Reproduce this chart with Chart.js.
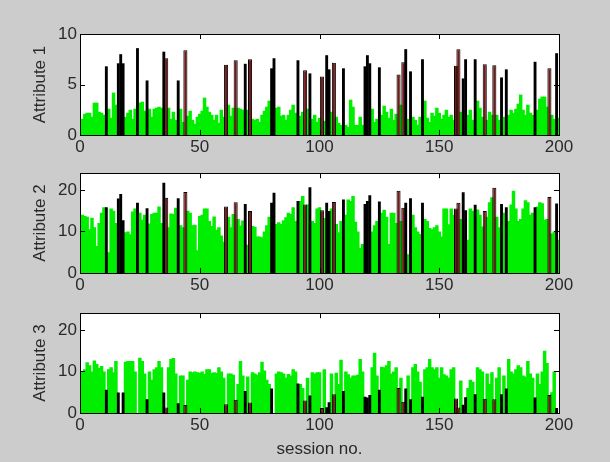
<!DOCTYPE html>
<html>
<head>
<script src="https://cdn.jsdelivr.net/npm/chart.js@4.4.0/dist/chart.umd.min.js"></script>
<style>
  body { margin: 0; background: #cccccc; width: 610px; height: 462px; overflow: hidden; }
  canvas { position: absolute; left: 0; }
</style>
</head>
<body>
<canvas id="plot1" width="610" height="165" style="top:0px"></canvas>
<canvas id="plot2" width="610" height="150" style="top:160px"></canvas>
<canvas id="plot3" width="610" height="162" style="top:300px"></canvas>
<script>
// sessions 1..200, green = ordinary sessions (0 where the session is marked)
var attr1 = [
  1.6, 2.1, 2.2, 2.2, 1.8, 3.2, 3.2, 2.3, 2.2, 2.0,
  0, 2.6, 1.7, 4.2, 3.0, 0, 0, 0, 1.8, 2.2,
  2.5, 1.6, 2.6, 0, 3.2, 3.3, 2.4, 0, 2.6, 1.8,
  2.6, 2.7, 2.8, 2.7, 0, 0, 2.7, 1.6, 2.3, 1.5,
  0, 2.6, 1.3, 0, 1.9, 2.4, 1.5, 1.1, 1.8, 2.1,
  2.4, 3.7, 2.8, 2.3, 2.0, 1.5, 2.0, 1.2, 2.5, 1.8,
  0, 3.0, 1.9, 2.7, 0, 2.7, 2.6, 2.5, 0, 2.5,
  0, 1.6, 1.5, 1.6, 1.3, 2.0, 2.4, 2.8, 3.4, 0,
  0, 2.7, 2.8, 1.9, 2.0, 1.5, 2.0, 2.5, 3.0, 2.2,
  0, 1.9, 2.3, 0, 2.6, 0, 1.6, 2.0, 1.3, 1.7,
  0, 1.4, 0, 0, 2.3, 0, 1.8, 1.2, 1.0, 0,
  1.0, 0.8, 3.5, 2.8, 1.0, 1.0, 1.8, 1.0, 0, 0,
  0, 2.6, 1.3, 1.6, 0, 2.0, 2.9, 2.3, 1.7, 2.6,
  1.5, 2.1, 0, 3.0, 0, 0, 1.6, 0, 1.8, 1.5,
  1.0, 1.8, 0, 3.4, 1.7, 1.3, 2.2, 1.9, 2.7, 2.2,
  1.6, 2.0, 2.5, 1.8, 2.0, 1.5, 0, 0, 2.3, 0,
  0, 2.0, 2.5, 1.5, 0, 3.4, 2.7, 1.8, 0, 1.5,
  2.3, 2.0, 0, 2.0, 1.5, 0, 1.8, 0, 2.0, 2.5,
  2.2, 2.6, 3.1, 4.0, 2.5, 2.0, 3.0, 2.2, 2.0, 0,
  2.5, 3.6, 3.8, 3.8, 2.8, 0, 2.0, 1.6, 0, 1.7
];
var attr2 = [
  14.0, 13.7, 13.5, 10.5, 13.3, 11.0, 6.5, 12.0, 14.5, 15.8,
  0, 5.0, 15.5, 15.0, 12.0, 0, 0, 0, 9.8, 10.0,
  9.3, 14.8, 15.5, 0, 14.5, 12.8, 14.0, 0, 11.9, 14.2,
  14.5, 14.5, 16.0, 12.0, 0, 0, 11.0, 14.3, 14.2, 15.7,
  0, 11.5, 11.0, 0, 15.0, 14.5, 11.5, 11.6, 5.5, 13.7,
  14.0, 15.5, 15.5, 12.5, 11.3, 13.6, 10.4, 11.0, 9.0, 7.5,
  0, 13.5, 11.0, 14.2, 0, 13.0, 11.4, 12.6, 0, 6.8,
  0, 11.3, 11.1, 8.8, 8.8, 8.6, 10.0, 11.5, 13.5, 0,
  0, 11.8, 12.2, 11.8, 12.7, 13.4, 14.5, 14.2, 15.8, 12.5,
  0, 17.3, 18.5, 0, 16.5, 0, 12.5, 12.0, 15.5, 15.8,
  0, 13.2, 0, 0, 15.5, 0, 11.8, 9.8, 12.5, 0,
  14.0, 17.7, 17.3, 18.5, 12.3, 10.0, 6.0, 7.0, 0, 0,
  0, 10.0, 11.5, 12.5, 0, 14.5, 15.2, 13.5, 7.0, 14.5,
  14.5, 12.0, 0, 12.5, 0, 0, 4.5, 0, 14.0, 11.0,
  10.0, 9.4, 0, 13.0, 12.5, 10.8, 10.5, 11.0, 11.5, 10.0,
  8.8, 15.5, 15.5, 11.7, 15.5, 14.0, 0, 0, 13.0, 0,
  0, 8.0, 15.5, 15.0, 0, 15.3, 14.0, 11.2, 0, 13.5,
  17.0, 18.2, 0, 13.5, 11.0, 0, 14.5, 0, 12.5, 16.5,
  19.8, 15.5, 12.5, 13.0, 15.5, 17.5, 17.0, 14.0, 14.5, 0,
  16.0, 17.0, 16.8, 12.8, 13.0, 0, 9.5, 10.0, 0, 8.0
];
var attr3 = [
  10.0, 10.5, 12.2, 11.5, 10.0, 12.6, 11.8, 10.8, 11.3, 10.0,
  0, 10.5, 11.0, 9.8, 12.5, 0, 0, 0, 12.3, 12.5,
  12.5, 12.5, 10.0, 0, 13.3, 12.5, 9.5, 0, 10.0, 8.0,
  10.5, 11.0, 12.5, 11.0, 0, 0, 11.0, 13.0, 13.2, 9.5,
  0, 9.0, 9.0, 0, 8.0, 10.0, 9.8, 10.0, 9.8, 9.7,
  10.0, 9.4, 10.5, 10.5, 9.6, 9.8, 9.6, 11.0, 10.0, 8.5,
  0, 9.5, 9.5, 9.2, 0, 7.0, 12.5, 9.0, 0, 8.8,
  0, 9.8, 9.5, 9.2, 9.8, 12.3, 10.2, 8.0, 7.0, 0,
  0, 9.5, 10.0, 9.8, 9.5, 8.5, 9.4, 9.0, 10.5, 10.0,
  0, 7.0, 6.0, 0, 8.5, 0, 9.8, 9.5, 9.8, 9.8,
  0, 10.5, 0, 0, 9.5, 0, 9.7, 7.0, 12.8, 0,
  10.0, 9.3, 8.5, 9.0, 9.0, 9.2, 13.0, 10.0, 0, 0,
  0, 11.0, 14.5, 9.0, 0, 11.1, 11.0, 11.5, 12.5, 9.5,
  10.0, 11.0, 0, 8.5, 0, 0, 9.0, 0, 11.0, 11.8,
  10.0, 7.5, 0, 10.5, 11.0, 13.0, 11.0, 10.5, 11.0, 8.5,
  11.0, 9.3, 9.0, 8.5, 10.5, 11.0, 0, 0, 7.8, 0,
  0, 6.0, 8.0, 7.5, 0, 11.0, 10.5, 10.0, 0, 9.5,
  7.0, 9.8, 0, 8.5, 11.0, 0, 9.0, 0, 13.0, 10.0,
  9.5, 10.5, 11.5, 11.0, 9.0, 8.8, 12.5, 9.5, 8.5, 0,
  9.5, 7.0, 10.0, 15.0, 12.0, 0, 5.0, 10.0, 0, 0
];

// marked sessions and their values
var markSessions = [11, 16, 17, 18, 24, 28, 35, 36, 41, 44, 61, 65, 69, 71, 80, 81, 91, 94, 96, 101,
  103, 104, 106, 110, 119, 120, 121, 125, 133, 135, 136, 138, 143, 157, 158, 160, 161, 165, 169, 173,
  176, 178, 190, 196, 199];
var redSessions = [36, 44, 61, 65, 71, 94, 101, 106, 133, 135, 157, 158, 169, 173, 196];
var mark1 = [6.8, 7.1, 8.0, 7.1, 8.6, 5.4, 8.25, 7.6, 5.4, 8.4, 6.95, 7.4, 7.05, 7.5, 6.6, 7.6, 7.4, 6.4, 6.1, 5.8,
  7.9, 6.5, 7.15, 6.6, 6.8, 7.9, 7.1, 6.7, 6.0, 7.2, 8.5, 6.3, 7.5, 6.85, 8.5, 5.6, 7.5, 7.5, 7.0, 6.9,
  5.7, 6.5, 7.25, 6.6, 8.1];
var mark2 = [15.8, 17.9, 19.0, 12.7, 16.9, 15.6, 21.7, 18.1, 18.0, 19.5, 16.0, 17.0, 16.6, 14.9, 16.9, 19.3, 17.3, 16.5, 20.6, 15.1,
  16.9, 14.9, 17.1, 17.7, 16.6, 17.3, 18.7, 17.2, 19.8, 15.7, 16.9, 18.0, 16.9, 15.5, 16.9, 19.4, 15.1, 16.4, 14.9, 20.5,
  16.6, 15.8, 15.8, 18.3, 16.7];
var mark3 = [5.6, 4.9, 0, 4.9, 0, 3.3, 4.9, 1.3, 2.35, 1.9, 2.1, 3.2, 5.3, 2.5, 5.9, 0, 7.1, 3.0, 4.2, 1.2,
  1.4, 2.6, 4.5, 5.3, 3.9, 3.7, 4.3, 5.6, 6.0, 2.7, 5.9, 3.3, 3.9, 3.5, 1.3, 2.0, 3.8, 4.5, 3.4, 3.3,
  4.5, 5.9, 3.7, 4.3, 1.2];

var xTicks = [0, 50, 100, 150, 200];
var yTicks1 = [0, 5, 10];
var yTicks23 = [0, 10, 20];

var FONT = '"Liberation Sans", Arial, sans-serif';
var TXT = '#2a2a2a';
var FS = 17;

// white plot area, then MATLAB style box with inward ticks on all four sides
var boxPlugin = {
  id: 'box',
  beforeDatasetsDraw: function(chart) {
    var a = chart.chartArea, c = chart.ctx;
    c.save();
    c.fillStyle = '#ffffff';
    c.fillRect(a.left, a.top, a.right - a.left, a.bottom - a.top);
    c.restore();
  },
  afterDatasetsDraw: function(chart) {
    var a = chart.chartArea, c = chart.ctx;
    var sx = chart.scales.x, sy = chart.scales.y;
    c.save();
    c.strokeStyle = '#000';
    c.lineWidth = 1;
    c.beginPath();
    sx.ticks.forEach(function(t) {
      var px = Math.round(sx.getPixelForValue(t.value)) + 0.5;
      c.moveTo(px, a.bottom); c.lineTo(px, a.bottom - 5);
      c.moveTo(px, a.top); c.lineTo(px, a.top + 5);
    });
    sy.ticks.forEach(function(t) {
      var py = Math.round(sy.getPixelForValue(t.value)) + 0.5;
      c.moveTo(a.left, py); c.lineTo(a.left + 5, py);
      c.moveTo(a.right, py); c.lineTo(a.right - 5, py);
    });
    c.stroke();
    c.strokeRect(Math.round(a.left) + 0.5, Math.round(a.top) + 0.5,
      Math.round(a.right - a.left), Math.round(a.bottom - a.top));
    c.restore();
  }
};

function makePlot(id, green, marks, ymax, yTicks, ylabel, topPad, xHeight, xTitle) {
  var blackPts = [], redPts = [];
  for (var i = 0; i < markSessions.length; i++) {
    var p = { x: markSessions[i], y: marks[i] };
    if (redSessions.indexOf(markSessions[i]) >= 0) redPts.push(p); else blackPts.push(p);
  }
  var greenPts = green.map(function(v, i) { return { x: i + 1, y: v }; });

  return new Chart(document.getElementById(id), {
    type: 'bar',
    data: {
      datasets: [
        { data: greenPts, backgroundColor: '#00ee00', borderWidth: 0, grouped: false, inflateAmount: 0,
          barPercentage: 1.45, categoryPercentage: 1, order: 2 },
        { data: blackPts, backgroundColor: '#000000', borderWidth: 0, grouped: false,
          barPercentage: 1.2, categoryPercentage: 1, order: 1 },
        { data: redPts, backgroundColor: '#721a1a', borderColor: '#000000', borderWidth: 1, borderSkipped: 'bottom',
          grouped: false, barPercentage: 1.7, categoryPercentage: 1, order: 1 }
      ]
    },
    options: {
      responsive: false,
      animation: false,
      events: [],
      layout: { padding: { top: topPad, right: 51, left: 0, bottom: 0 } },
      plugins: { legend: { display: false }, tooltip: { enabled: false } },
      scales: {
        x: {
          type: 'linear', min: 0, max: 200, offset: false,
          grid: { display: false, drawTicks: false, offset: false },
          border: { display: false },
          ticks: { color: TXT, font: { family: FONT, size: FS }, padding: 2, maxRotation: 0 },
          afterBuildTicks: function(s) { s.ticks = xTicks.map(function(v) { return { value: v }; }); },
          afterFit: function(s) { s.height = xHeight; },
          title: { display: !!xTitle, text: xTitle || '', color: TXT, font: { family: FONT, size: FS },
                   padding: { top: 0, bottom: 2 } }
        },
        y: {
          min: 0, max: ymax,
          grid: { display: false, drawTicks: false },
          border: { display: false },
          ticks: { color: TXT, font: { family: FONT, size: FS }, padding: 3 },
          afterBuildTicks: function(s) { s.ticks = yTicks.map(function(v) { return { value: v }; }); },
          afterFit: function(s) { s.width = 80; },
          title: { display: true, text: ylabel, color: TXT, font: { family: FONT, size: FS },
                   padding: { top: 30, bottom: 0 } }
        }
      }
    },
    plugins: [boxPlugin]
  });
}

makePlot('plot1', attr1, mark1, 10, yTicks1, 'Attribute 1', 34, 30, null);
makePlot('plot2', attr2, mark2, 24, yTicks23, 'Attribute 2', 13, 37, null);
makePlot('plot3', attr3, mark3, 24, yTicks23, 'Attribute 3', 12, 49, 'session no.');
</script>
</body>
</html>
